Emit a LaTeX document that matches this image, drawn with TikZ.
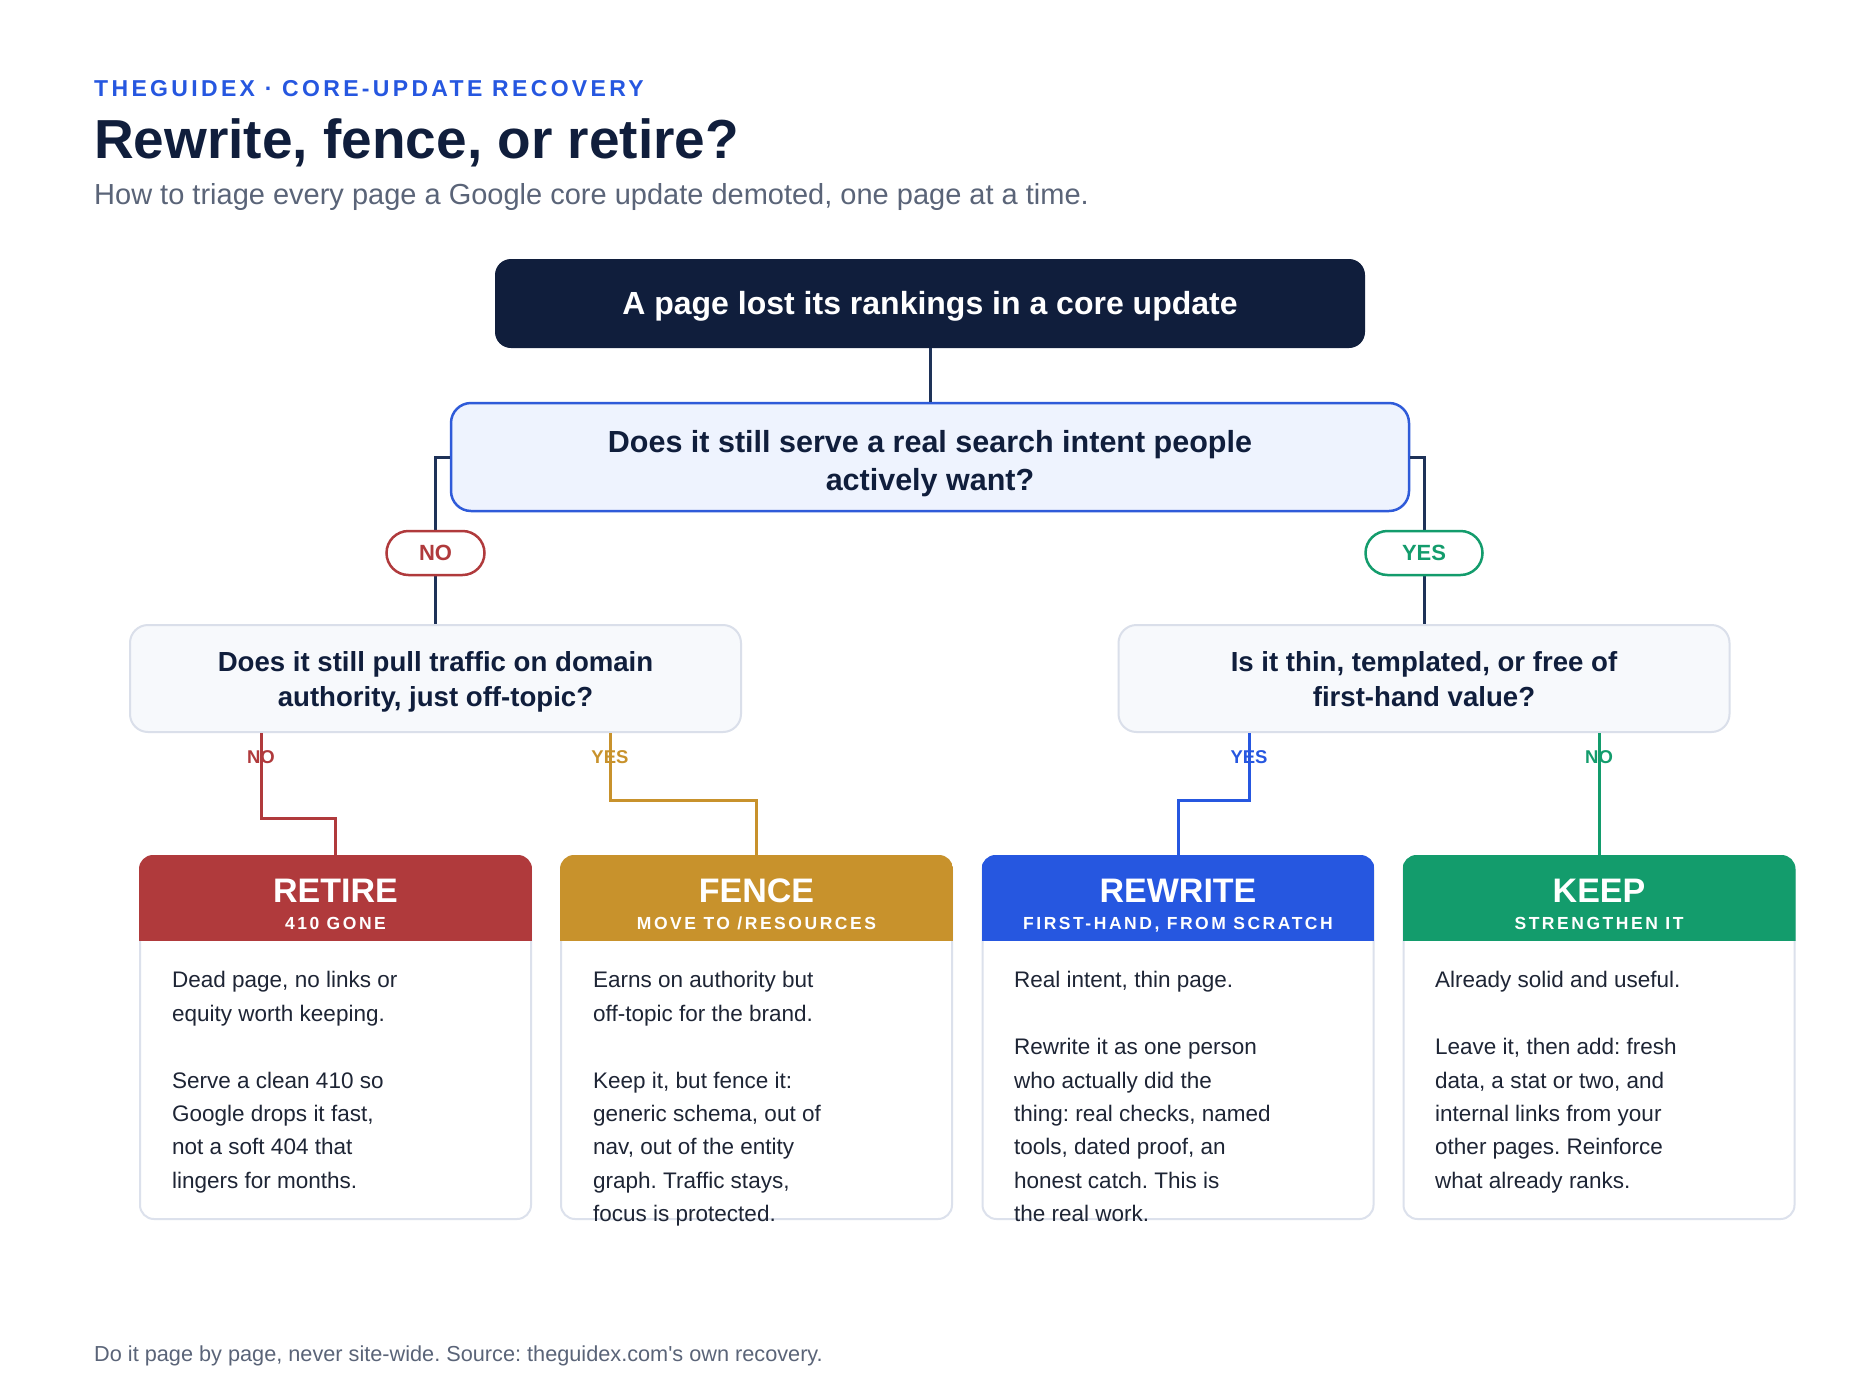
\documentclass[tikz,border=0pt]{standalone}
\usepackage{fontspec}
\setmainfont{Liberation Sans}
\newfontfamily\spacedfont[LetterSpace=14.5]{Liberation Sans}
\newfontfamily\plainfont{Liberation Sans}
\frenchspacing
\begin{document}
\begin{tikzpicture}[x=1pt,y=-1pt,
	startbox/.style={fill=navy, rounded corners=16pt, minimum width=870pt, minimum height=89pt},
	mainq/.style={fill=qfill, draw=qblue, line width=2.5pt, rounded corners=20pt, minimum width=958pt, minimum height=108pt},
	subq/.style={fill=subfill, draw=subline, line width=2pt, rounded corners=18pt, minimum width=611pt, minimum height=107pt},
	starttext/.style={inner sep=0pt, text=white, font=\bfseries\fontsize{32}{38}\selectfont},
	mainqtext/.style={inner sep=0pt, align=center, text=navy, font=\bfseries\fontsize{30.5}{38}\selectfont},
	subqtext/.style={inner sep=0pt, align=center, text=navy, font=\bfseries\fontsize{27.6}{35}\selectfont},
	pill/.style={fill=white, line width=2.5pt, rounded corners=22pt, minimum height=44pt, font=\bfseries\fontsize{22}{26}\selectfont},
	branchlab/.style={inner sep=0pt, font=\bfseries\fontsize{18.5}{22}\selectfont},
	link/.style={draw=linknavy, line width=3pt},
	card/.style={fill=white, draw=cardline, line width=2pt, rounded corners=14pt, minimum width=391pt, minimum height=363pt},
	cardtitle/.style={anchor=base, inner sep=0pt, text=white, font=\bfseries\fontsize{34}{40}\selectfont},
	cardsub/.style={anchor=base, inner sep=0pt, text=white, font=\spacedfont\bfseries\fontsize{17.5}{21}\selectfont},
	bodytext/.style={anchor=north west, inner sep=0pt, align=left, text=bodyink, font=\fontsize{22.5}{33.4}\selectfont}]
	% Define custom colors
	\definecolor{navy}{RGB}{16, 30, 60}
	\definecolor{linknavy}{RGB}{30, 50, 88}
	\definecolor{kicker}{RGB}{38, 87, 224}
	\definecolor{greytext}{RGB}{90, 100, 120}
	\definecolor{qfill}{RGB}{238, 243, 254}
	\definecolor{qblue}{RGB}{47, 91, 217}
	\definecolor{subfill}{RGB}{247, 249, 252}
	\definecolor{subline}{RGB}{218, 223, 234}
	\definecolor{cardline}{RGB}{220, 225, 236}
	\definecolor{bodyink}{RGB}{30, 37, 53}
	\definecolor{retirecol}{RGB}{176, 58, 60}
	\definecolor{fencecol}{RGB}{200, 146, 44}
	\definecolor{rewritecol}{RGB}{38, 87, 224}
	\definecolor{keepcol}{RGB}{19, 156, 108}
	\useasboundingbox (0,0) rectangle (1860,1395);
	\fill[white] (0,0) rectangle (1860,1395);
	% Heading
	\node[anchor=base west, inner sep=0pt, text=kicker, font=\spacedfont\bfseries\fontsize{23}{28}\selectfont] (kickerline) at (94,96) {THEGUIDEX · CORE-UPDATE RECOVERY};
	\node[anchor=base west, inner sep=0pt, text=navy, font=\bfseries\fontsize{55}{64}\selectfont] (title) at (94,158) {Rewrite, fence, or retire?};
	\node[anchor=base west, inner sep=0pt, text=greytext, font=\fontsize{29}{34}\selectfont] (subtitle) at (94,204) {How to triage every page a Google core update demoted, one page at a time.};
	% Decision boxes
	\node[startbox] (start) at (930,303.5) {};
	\node[starttext] (starttxt) at (930,306) {A page lost its rankings in a core update};
	\node[mainq] (q1) at (930,457) {};
	\node[mainqtext] (q1txt) at (930,464) {Does it still serve a real search intent people\\actively want?};
	\node[subq] (q2l) at (435.5,678.5) {};
	\node[subqtext] (q2ltxt) at (435.5,681.8) {Does it still pull traffic on domain\\authority, just off-topic?};
	\node[subq] (q2r) at (1424,678.5) {};
	\node[subqtext] (q2rtxt) at (1424,679.2) {Is it thin, templated, or free of\\first-hand value?};
	\draw[link] (start.south) -- (q1.north);
	\draw[link] (q1.west) -| (q2l.north);
	\draw[link] (q1.east) -| (q2r.north);
	\node[pill, draw=retirecol, text=retirecol, minimum width=98pt] (nopill) at (435.5,553) {NO};
	\node[pill, draw=keepcol, text=keepcol, minimum width=117pt] (yespill) at (1424,553) {YES};
	% Outcome cards
	\node[card] (retire) at (335.5,1037.5) {};
	\node[card] (fence) at (756.5,1037.5) {};
	\node[card] (rewrite) at (1178,1037.5) {};
	\node[card] (keep) at (1599,1037.5) {};
	\begin{scope}
		\clip[rounded corners=14pt] (retire.north west) rectangle (retire.south east);
		\fill[retirecol] (retire.north west) rectangle ([yshift=-86pt]retire.north east);
	\end{scope}
	\begin{scope}
		\clip[rounded corners=14pt] (fence.north west) rectangle (fence.south east);
		\fill[fencecol] (fence.north west) rectangle ([yshift=-86pt]fence.north east);
	\end{scope}
	\begin{scope}
		\clip[rounded corners=14pt] (rewrite.north west) rectangle (rewrite.south east);
		\fill[rewritecol] (rewrite.north west) rectangle ([yshift=-86pt]rewrite.north east);
	\end{scope}
	\begin{scope}
		\clip[rounded corners=14pt] (keep.north west) rectangle (keep.south east);
		\fill[keepcol] (keep.north west) rectangle ([yshift=-86pt]keep.north east);
	\end{scope}
	\node[cardtitle] (retiretitle) at (335.5,902) {RETIRE};
	\node[cardsub] (retiresub) at (335.5,929.5) {410 GONE};
	\node[cardtitle] (fencetitle) at (756.5,902) {FENCE};
	\node[cardsub] (fencesub) at (756.5,929.5) {MOVE TO /RESOURCES};
	\node[cardtitle] (rewritetitle) at (1178,902) {REWRITE};
	\node[cardsub] (rewritesub) at (1178,929.5) {FIRST-HAND, FROM SCRATCH};
	\node[cardtitle] (keeptitle) at (1599,902) {KEEP};
	\node[cardsub] (keepsub) at (1599,929.5) {STRENGTHEN IT};
	\node[bodytext] (retirebody) at (172,964.4) {\strut Dead page, no links or\\equity worth keeping.\\[33.4pt]Serve a clean 410 so\\Google drops it fast,\\not a soft 404 that\\lingers for months.};
	\node[bodytext] (fencebody) at (593,964.4) {\strut Earns on authority but\\off-topic for the brand.\\[33.4pt]Keep it, but fence it:\\generic schema, out of\\nav, out of the entity\\graph. Traffic stays,\\focus is protected.};
	\node[bodytext] (rewritebody) at (1014,964.4) {\strut Real intent, thin page.\\[33.4pt]Rewrite it as one person\\who actually did the\\thing: real checks, named\\tools, dated proof, an\\honest catch. This is\\the real work.};
	\node[bodytext] (keepbody) at (1435,964.4) {\strut Already solid and useful.\\[33.4pt]Leave it, then add: fresh\\data, a stat or two, and\\internal links from your\\other pages. Reinforce\\what already ranks.};
	% Branches to the cards
	\node[branchlab, text=retirecol] (nolabl) at (261,757) {NO};
	\node[branchlab, text=fencecol] (yeslabl) at (610,757) {YES};
	\node[branchlab, text=rewritecol] (yeslabr) at (1249,757) {YES};
	\node[branchlab, text=keepcol] (nolabr) at (1599,757) {NO};
	\draw[draw=retirecol, line width=3pt] (nolabl |- q2l.south) |- (300,818) -| (retire.north);
	\draw[draw=fencecol, line width=3pt] (yeslabl |- q2l.south) |- (700,800) -| (fence.north);
	\draw[draw=rewritecol, line width=3pt] (yeslabr |- q2r.south) |- (1200,800) -| (rewrite.north);
	\draw[draw=keepcol, line width=3pt] (nolabr |- q2r.south) -- (keep.north);
	% Footer
	\node[anchor=base west, inner sep=0pt, text=greytext, font=\plainfont\fontsize{21.7}{26}\selectfont] (footer) at (94,1361) {Do it page by page, never site-wide. Source: theguidex.com's own recovery.};
\end{tikzpicture}
\end{document}
